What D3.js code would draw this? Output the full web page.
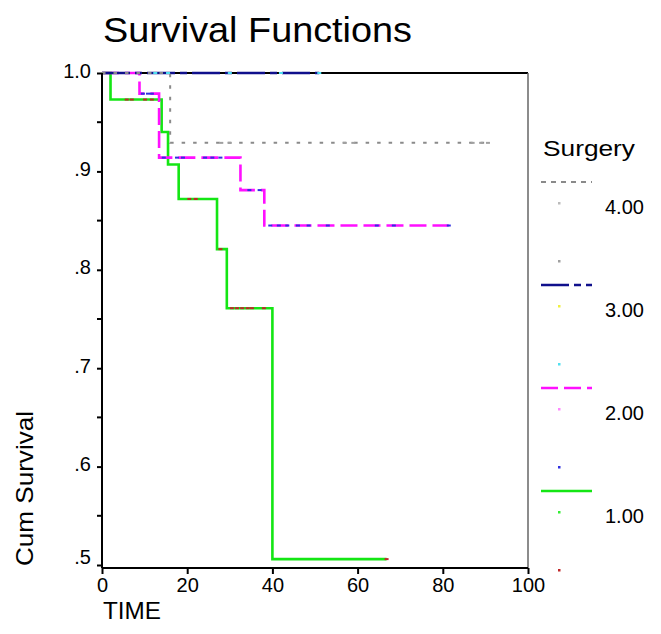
<!DOCTYPE html>
<html><head><meta charset="utf-8">
<script src="https://cdn.jsdelivr.net/npm/d3@7"></script>
<style>body{margin:0;background:#fff}svg{display:block}text{font-family:"Liberation Sans",Arial,sans-serif;fill:#000}</style>
</head><body><svg id="c" width="661" height="634"></svg>
<script>
// ---- data ----
const categories = ["1.00", "2.00", "3.00", "4.00"];
const s1Times = [0, 2.0, 14.0, 15.5, 18.0, 27.0, 29.3, 40.0];
const s1Surv  = [1, 0.973, 0.940, 0.907, 0.872, 0.821, 0.761, 0.506];
const s1End = 66.8;
const s1Censored = [5.8, 7.0, 10.1, 11.7, 20.5, 22.0, 27.8, 30.5, 31.7, 32.9, 34.2, 35.2, 38.0, 66.8];
const s2Times = [0, 8.8, 13.4, 32.5, 38.1];
const s2Surv  = [1, 0.979, 0.914, 0.881, 0.845];
const s2End = 81.4;
const s2Censored = [9.6, 10.8, 11.7, 14.5, 17.6, 19.0, 24.2, 25.9, 27.8, 34.6, 37.0, 39.5, 41.5, 43.5, 46.0, 48.5, 53.0, 64.5, 68.5, 81.4];
const s3Times = [0];
const s3Surv  = [1];
const s3End = 51.0;
const s3Censored = [12.5, 15.5, 30.0, 42.0, 51.0];
const s4Times = [0, 16.0];
const s4Surv  = [1, 0.929];
const s4End = 90.6;
const s4Censored = [28.0, 30.0, 57.0, 59.0, 87.0, 89.0, 90.6];
const xTicks = [0, 20, 40, 60, 80, 100];
const yTicks = [1.0, 0.9, 0.8, 0.7, 0.6, 0.5];
const yTickLabels = ["1.0", ".9", ".8", ".7", ".6", ".5"];
const yMinorTicks = [0.95, 0.85, 0.75, 0.65, 0.55];

const series = [
  {name: "1.00", times: s1Times, surv: s1Surv, end: s1End, cens: s1Censored,
   color: "#14e614", width: 2.6, dash: null, mark: "#33ee33", censColor: "#c0282a"},
  {name: "2.00", times: s2Times, surv: s2Surv, end: s2End, cens: s2Censored,
   color: "#ff10ff", width: 2.6, dash: "17,6", mark: "#ff88ff", censColor: "#3030e0"},
  {name: "3.00", times: s3Times, surv: s3Surv, end: s3End, cens: s3Censored,
   color: "#10108c", width: 2.4, dash: "28,5,7,5", mark: "#f0f040", censColor: "#50e0f0"},
  {name: "4.00", times: s4Times, surv: s4Surv, end: s4End, cens: s4Censored,
   color: "#8a8a8a", width: 2, dash: "3.5,8", mark: "#bbbbbb", censColor: "#a0a0a0"}
];

const svg = d3.select("#c");
const x = d3.scaleLinear().domain([0, 100]).range([102, 528]);
const y = d3.scaleLinear().domain([1.0, 0.5]).range([73, 565]);
const yBottom = 568;

// frame
svg.append("line").attr("x1", x(0)).attr("x2", x(100)).attr("y1", y(1)).attr("y2", y(1))
  .attr("stroke", "#000").attr("stroke-width", 2);
svg.append("line").attr("x1", x(100)).attr("x2", x(100)).attr("y1", y(1)).attr("y2", yBottom)
  .attr("stroke", "#666").attr("stroke-width", 1.5);

// survival step lines
function stepPoints(s) {
  const pts = [];
  for (let i = 0; i < s.times.length; i++) {
    if (i > 0) pts.push([s.times[i], s.surv[i - 1]]);
    pts.push([s.times[i], s.surv[i]]);
  }
  pts.push([s.end, s.surv[s.surv.length - 1]]);
  return pts;
}
function survAt(s, t) {
  let v = s.surv[0];
  for (let i = 0; i < s.times.length; i++) if (s.times[i] <= t) v = s.surv[i];
  return v;
}
const line = d3.line().x(d => x(d[0])).y(d => y(d[1]));
series.forEach(s => {
  svg.append("path").attr("d", line(stepPoints(s))).attr("fill", "none")
    .attr("stroke", s.color).attr("stroke-width", s.width)
    .attr("stroke-dasharray", s.dash);
});
series.forEach(s => {
  svg.selectAll(null).data(s.cens).enter().append("rect")
    .attr("x", d => x(d) - 2).attr("y", d => y(survAt(s, d)) - 1)
    .attr("width", 4).attr("height", 2).attr("fill", s.censColor);
});

// axes
const xAxis = svg.append("g").attr("transform", `translate(0,${yBottom})`)
  .call(d3.axisBottom(x).tickValues(xTicks).tickSize(6).tickPadding(4).tickFormat(d3.format("d")));
xAxis.select(".domain").attr("stroke-width", 2).attr("d", `M${x(0)},0H${x(100)}`);
xAxis.selectAll(".tick line").attr("stroke-width", 2);
xAxis.selectAll("text").attr("font-size", 20).attr("font-family", "Liberation Sans, Arial");

const yAxis = svg.append("g").attr("transform", `translate(${x(0)},0)`)
  .call(d3.axisLeft(y).tickValues(yTicks).tickSize(5).tickPadding(6)
    .tickFormat((d, i) => yTickLabels[i]));
yAxis.select(".domain").attr("stroke-width", 2).attr("d", `M0,${y(1)}V${yBottom}`);
yAxis.selectAll(".tick line").attr("stroke-width", 2);
yAxis.selectAll("text").attr("font-size", 20).attr("font-family", "Liberation Sans, Arial")
  .attr("dy", (d) => d === 0.5 ? "-0.1em" : "0.2em");
yAxis.selectAll(null).data(yMinorTicks).enter().append("line")
  .attr("x1", -5).attr("x2", 0).attr("y1", d => y(d)).attr("y2", d => y(d))
  .attr("stroke", "#000").attr("stroke-width", 2);

// titles
svg.append("text").attr("x", 103).attr("y", 42).attr("font-size", 35)
  .attr("textLength", 309).attr("lengthAdjust", "spacingAndGlyphs").text("Survival Functions");
svg.append("text").attr("x", 103).attr("y", 619).attr("font-size", 24)
  .attr("textLength", 58).attr("lengthAdjust", "spacingAndGlyphs").text("TIME");
svg.append("text").attr("transform", "translate(33,566) rotate(-90)").attr("font-size", 24)
  .attr("textLength", 155).attr("lengthAdjust", "spacingAndGlyphs").text("Cum Survival");

// legend
svg.append("text").attr("x", 543).attr("y", 156).attr("font-size", 22)
  .attr("textLength", 92).attr("lengthAdjust", "spacingAndGlyphs").text("Surgery");
const legendOrder = [3, 2, 1, 0];
legendOrder.forEach((si, k) => {
  const s = series[si];
  const ly = 182 + k * 103;
  svg.append("line").attr("x1", 541).attr("x2", 592).attr("y1", ly).attr("y2", ly)
    .attr("stroke", s.color).attr("stroke-width", s.width)
    .attr("stroke-dasharray", si === 3 ? "5,5" : s.dash);
  svg.append("rect").attr("x", 558).attr("y", ly + 20).attr("width", 2.5).attr("height", 2.5).attr("fill", s.mark);
  svg.append("text").attr("x", 605).attr("y", ly + 32).attr("font-size", 20).text(categories[si]);
  svg.append("rect").attr("x", 558).attr("y", ly + 78).attr("width", 2.5).attr("height", 2.5).attr("fill", s.censColor);
});
</script></body></html>
